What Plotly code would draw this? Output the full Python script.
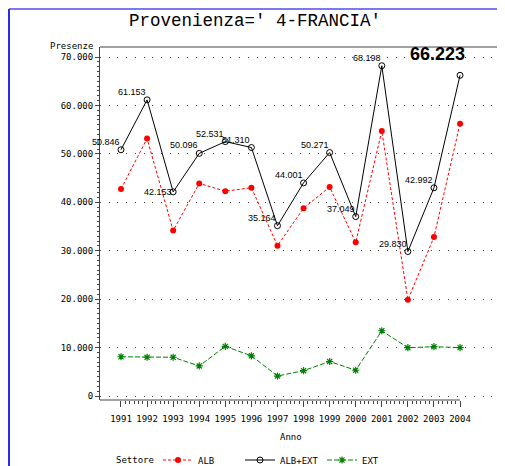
import plotly.graph_objects as go

# ---- data ----
years = [1991, 1992, 1993, 1994, 1995, 1996, 1997, 1998, 1999, 2000, 2001, 2002, 2003, 2004]
alb = [42746, 53153, 34153, 43896, 42281, 43010, 31044, 38771, 43151, 31729, 54728, 19860, 32812, 56233]
alb_ext = [50846, 61153, 42153, 50096, 52531, 51310, 35164, 44001, 50271, 37049, 68198, 29830, 42992, 66223]
ext = [8100, 8000, 8000, 6200, 10250, 8300, 4120, 5230, 7120, 5320, 13470, 9970, 10180, 9990]
y_tick_vals = [0, 10000, 20000, 30000, 40000, 50000, 60000, 70000]
y_tick_text = ["0", "10.000", "20.000", "30.000", "40.000", "50.000", "60.000", "70.000"]
year_text = [str(y) for y in years]

TICKFONT = dict(family="DejaVu Sans Mono, Liberation Mono, monospace", size=9, color="black")
LABFONT = dict(family="Liberation Sans, Arial", size=9, color="black")

# figure is placed by the page 8px from the top-left corner; layout is given in figure pixels
W, H = 497, 458
L, T, R, B = 92, 39, 8, 66
PW, PH = W - L - R, H - T - B


def px(xp):
    return (xp - L) / PW


def py(yp):
    return (H - B - yp) / PH


fig = go.Figure()
fig.add_trace(go.Scatter(
    x=years, y=alb, name="ALB", mode="lines+markers",
    line=dict(color="#ff0000", width=1, dash="3px,2px"),
    marker=dict(symbol="circle", size=6, color="#ff0000"),
))
fig.add_trace(go.Scatter(
    x=years, y=alb_ext, name="ALB+EXT", mode="lines+markers",
    line=dict(color="black", width=1),
    marker=dict(symbol="circle-open", size=6, color="black", line=dict(width=1, color="black")),
))
fig.add_trace(go.Scatter(
    x=years, y=ext, name="EXT", mode="lines+markers",
    line=dict(color="#008000", width=1, dash="5px,2px"),
    marker=dict(symbol="asterisk-open", size=6, color="#008000", line=dict(width=1.2, color="#008000")),
))

# data labels for ALB+EXT
annotations = []
for i, (yr, v) in enumerate(zip(years, alb_ext)):
    txt = f"{v:,}".replace(",", ".")
    if i == len(years) - 1:
        annotations.append(dict(x=yr, y=v, text=txt, showarrow=False, xanchor="right", yanchor="middle",
                                xshift=7, yshift=21,
                                font=dict(family="Liberation Sans, Arial", size=18, color="black", weight="bold")))
    else:
        ys = 0 if yr == 1993 else 8
        annotations.append(dict(x=yr, y=v, text=txt, showarrow=False, xanchor="right", yanchor="middle",
                                xshift=1, yshift=ys, font=LABFONT))

# axis titles and labels
annotations.append(dict(xref="paper", yref="paper", x=px(87), y=py(38), text="Presenze", showarrow=False,
                        xanchor="right", yanchor="middle", font=TICKFONT))
annotations.append(dict(xref="paper", yref="paper", x=px(283), y=py(429), text="Anno", showarrow=False,
                        xanchor="center", yanchor="middle", font=TICKFONT))
annotations.append(dict(xref="paper", yref="paper", x=px(106), y=py(452), text="Settore",
                        showarrow=False, xanchor="left", yanchor="middle", font=TICKFONT))

x_minor = []
for a, b in zip(years[:-1], years[1:]):
    for k in range(1, 6):
        x_minor.append(a + (b - a) * k / 6)
y_minor = [v for v in range(1000, 70001, 1000) if v % 10000 != 0]

X0, X1 = 1990.195, 2005.417

shapes = [
    # x axis line, ending at last year
    dict(type="line", xref="x", yref="paper", x0=X0, x1=years[-1], y0=0, y1=0,
         line=dict(color="#444", width=1)),
    # top frame line
    dict(type="line", xref="paper", yref="paper", x0=0, x1=1, y0=1, y1=1,
         line=dict(color="#444", width=1.2)),
    # blue page border
    dict(type="line", xref="paper", yref="paper", x0=px(1), x1=px(505), y0=py(1), y1=py(1),
         line=dict(color="#7a7aee", width=2)),
    dict(type="line", xref="paper", yref="paper", x0=px(1), x1=px(1), y0=py(1), y1=py(470),
         line=dict(color="#2a2aee", width=2)),
]

fig.update_layout(
    width=W, height=H,
    margin=dict(l=L, r=R, t=T, b=B, autoexpand=False),
    paper_bgcolor="white", plot_bgcolor="white",
    title=dict(text="Provenienza=' 4-FRANCIA'", x=247 / W, xanchor="center", y=1 - 12 / H, yanchor="middle",
               font=dict(family="Liberation Mono, DejaVu Sans Mono, monospace", size=17.5, color="black")),
    showlegend=True,
    legend=dict(orientation="h", x=px(150), y=py(452), xanchor="left", yanchor="middle",
                font=TICKFONT, entrywidth=37, entrywidthmode="pixels", itemwidth=30,
                bgcolor="rgba(0,0,0,0)"),
    annotations=annotations,
    shapes=shapes,
    xaxis=dict(range=[X0, X1], tickmode="array", tickvals=years, ticktext=year_text,
               ticks="outside", ticklen=6, tickcolor="#444", tickwidth=1, ticklabelstandoff=4,
               showline=False, showgrid=False, zeroline=False, tickfont=TICKFONT,
               minor=dict(tickmode="array", tickvals=x_minor, ticks="outside", ticklen=3,
                          tickcolor="#444", showgrid=False)),
    yaxis=dict(range=[-826, 72065], tickmode="array", tickvals=y_tick_vals, ticktext=y_tick_text,
               ticks="outside", ticklen=4, tickcolor="#444", tickwidth=1,
               showline=True, linecolor="#444", linewidth=1,
               showgrid=True, gridcolor="#444", gridwidth=1, griddash="1px,7.7px",
               zeroline=False, tickfont=TICKFONT,
               minor=dict(tickmode="array", tickvals=y_minor, ticks="outside", ticklen=2,
                          tickcolor="#444", showgrid=False)),
)

fig.write_html("out.html")
